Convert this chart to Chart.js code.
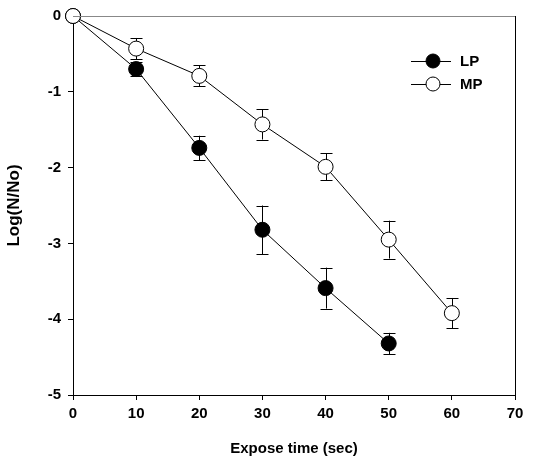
<!DOCTYPE html>
<html><head><meta charset="utf-8">
<script src="https://cdn.jsdelivr.net/npm/chart.js@4.4.0/dist/chart.umd.min.js"></script>
<style>html,body{margin:0;padding:0;background:#fff}#wrap{width:535px;height:464px}</style>
</head><body><div id="wrap"><canvas id="c" width="535" height="464"></canvas></div>
<script>
const times = [0, 10, 20, 30, 40, 50, 60];
const lpValues = [0, -0.70, -1.74, -2.82, -3.59, -4.32];
const lpErrors = [0, 0.09, 0.16, 0.32, 0.27, 0.14];
const mpValues = [0, -0.43, -0.79, -1.43, -1.99, -2.95, -3.92];
const mpErrors = [0, 0.14, 0.14, 0.20, 0.18, 0.25, 0.20];
const seriesNames = ['LP', 'MP'];
const xTitle = 'Expose time (sec)';
const yTitle = 'Log(N/No)';

const FONT = 'Liberation Sans, Arial, sans-serif';

function pts(vals){ return vals.map((v,i)=>({x: times[i], y: v})); }

const errorBars = {
  id: 'errorBars',
  beforeDatasetsDraw(chart){
    const ctx = chart.ctx, xs = chart.scales.x, ys = chart.scales.y;
    ctx.save();
    ctx.strokeStyle = '#000'; ctx.lineWidth = 1;
    chart.data.datasets.forEach(ds => {
      ds.data.forEach((p,i) => {
        const e = ds.errors[i]; if (!e) return;
        const px = Math.round(xs.getPixelForValue(p.x)) + 0.5;
        const y1 = ys.getPixelForValue(p.y + e), y2 = ys.getPixelForValue(p.y - e);
        ctx.beginPath();
        ctx.moveTo(px, y1); ctx.lineTo(px, y2);
        ctx.moveTo(px-6, Math.round(y1)+0.5); ctx.lineTo(px+6, Math.round(y1)+0.5);
        ctx.moveTo(px-6, Math.round(y2)+0.5); ctx.lineTo(px+6, Math.round(y2)+0.5);
        ctx.stroke();
      });
    });
    ctx.restore();
  },
  afterDraw(chart){
    const ctx = chart.ctx, a = chart.chartArea;
    ctx.save();
    ctx.lineWidth = 1;
    ctx.strokeStyle = '#888';
    ctx.beginPath();
    ctx.moveTo(a.left, Math.round(a.top)+0.5); ctx.lineTo(a.right, Math.round(a.top)+0.5);
    ctx.stroke();
    ctx.strokeStyle = '#000';
    ctx.beginPath();
    ctx.moveTo(Math.round(a.right)+0.5, a.top); ctx.lineTo(Math.round(a.right)+0.5, a.bottom);
    ctx.stroke();
    // legend
    const items = [{name: seriesNames[0], fill:'#000', y: 61}, {name: seriesNames[1], fill:'#fff', y: 84}];
    ctx.font = 'bold 15px ' + FONT;
    ctx.textBaseline = 'middle';
    items.forEach(it => {
      ctx.beginPath(); ctx.moveTo(411, it.y+0.5); ctx.lineTo(451, it.y+0.5); ctx.stroke();
      ctx.beginPath(); ctx.arc(433, it.y, 7, 0, Math.PI*2);
      ctx.fillStyle = it.fill; ctx.fill(); ctx.stroke();
      ctx.fillStyle = '#000'; ctx.fillText(it.name, 460, it.y+1);
    });
    ctx.restore();
  }
};

new Chart(document.getElementById('c'), {
  type: 'scatter',
  data: {
    datasets: [
      {label: seriesNames[0], data: pts(lpValues), errors: lpErrors, showLine: true, order: 1,
       borderColor: '#000', borderWidth: 1, pointBackgroundColor: '#000', pointBorderColor: '#000',
       pointRadius: 7.5, pointBorderWidth: 1, clip: false},
      {label: seriesNames[1], data: pts(mpValues), errors: mpErrors, showLine: true, order: 0,
       borderColor: '#000', borderWidth: 1, pointBackgroundColor: '#fff', pointBorderColor: '#000',
       pointRadius: 7.5, pointBorderWidth: 1, clip: false}
    ]
  },
  options: {
    responsive: false, animation: false,
    layout: {padding: {top: 14, right: 20, left: 0, bottom: 0}},
    plugins: {legend: {display: false}, tooltip: {enabled: false}},
    scales: {
      x: {
        type: 'linear', min: 0, max: 70,
        ticks: {stepSize: 10, color: '#000', font: {family: FONT, weight: 'bold', size: 15}, padding: 5},
        grid: {drawOnChartArea: false, drawTicks: true, tickLength: 5, color: '#000'},
        border: {display: true, color: '#000', width: 1},
        title: {display: true, text: xTitle, color: '#000', font: {family: FONT, weight: 'bold', size: 15}, padding: {top: 4, bottom: 6}},
        afterFit(s){ s.height = 69; }
      },
      y: {
        type: 'linear', min: -5, max: 0,
        ticks: {stepSize: 1, color: '#000', font: {family: FONT, weight: 'bold', size: 15}, padding: 7},
        grid: {drawOnChartArea: false, drawTicks: true, tickLength: 5, color: '#000'},
        border: {display: true, color: '#000', width: 1},
        title: {display: true, text: yTitle, color: '#000', font: {family: FONT, weight: 'bold', size: 17}, padding: {top: 4, bottom: 4}},
        afterFit(s){ s.width = 73; }
      }
    }
  },
  plugins: [errorBars]
});
</script></body></html>
